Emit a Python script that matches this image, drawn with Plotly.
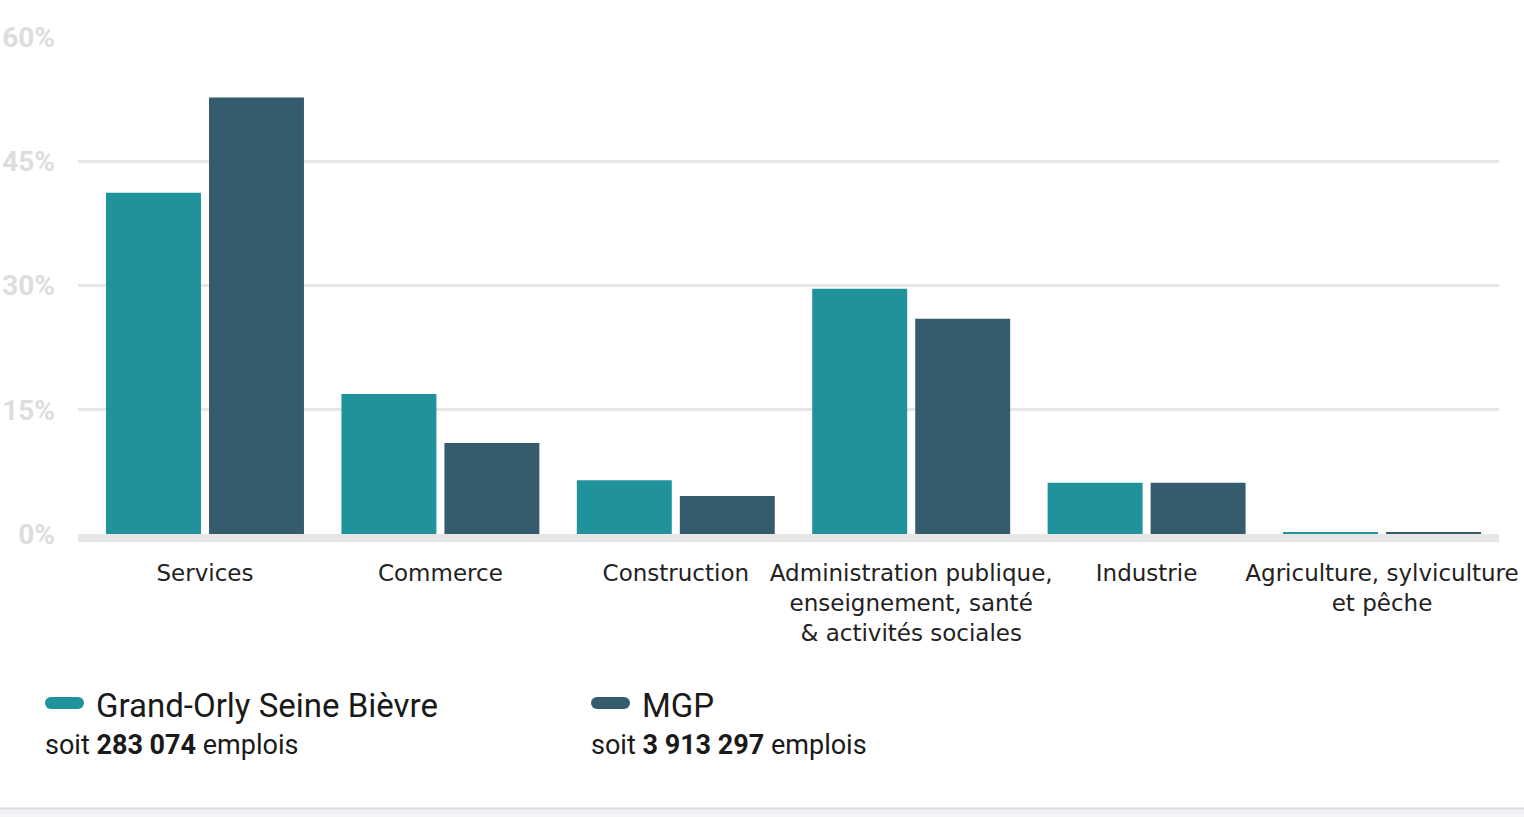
import plotly.graph_objects as go

categories = ["Services", "Commerce", "Construction",
              "Administration publique,<br>enseignement, santé<br>& activités sociales",
              "Industrie", "Agriculture, sylviculture<br>et pêche"]
gosb_values = [41.2, 16.9, 6.5, 29.6, 6.2, 0.2]
mgp_values = [52.7, 11.0, 4.6, 26.0, 6.2, 0.2]
series_names = ["Grand-Orly Seine Bièvre", "MGP"]
series_totals = ["283 074", "3 913 297"]
y_ticks = [0, 15, 30, 45, 60]
y_tick_labels = ["<b>0%</b>", "<b>15%</b>", "<b>30%</b>", "<b>45%</b>", "<b>60%</b>"]

TEAL = "#20929B"
DARK = "#355C6C"

W, H = 1524, 817
ML, MR, MT = 78, 25, 37
PLOT_BOTTOM = 534
MB = H - PLOT_BOTTOM
PH = PLOT_BOTTOM - MT
PW = W - ML - MR


def px_x(x):
    return (x - ML) / PW


def px_y(y):
    return (PLOT_BOTTOM - y) / PH


x_idx = list(range(len(categories)))

fig = go.Figure()
fig.add_trace(go.Bar(x=x_idx, y=gosb_values, name=series_names[0],
                     marker=dict(color=TEAL, line=dict(width=0))))
fig.add_trace(go.Bar(x=x_idx, y=mgp_values, name=series_names[1],
                     marker=dict(color=DARK, line=dict(width=0))))

fig.update_layout(
    width=W, height=H,
    margin=dict(l=ML, r=MR, t=MT, b=MB, pad=0, autoexpand=False),
    paper_bgcolor="white", plot_bgcolor="white",
    barmode="group", bargap=0.125, bargroupgap=0.078,
    showlegend=False,
    font=dict(family="DejaVu Sans, sans-serif", color="#222222"),
)
fig.update_xaxes(
    tickmode="array", tickvals=x_idx, ticktext=categories,
    range=[-0.5395, 5.497], showgrid=False, zeroline=False, showline=False,
    ticks="", ticklabelstandoff=23, automargin=False,
    tickfont=dict(family="DejaVu Sans, sans-serif", size=23, color="#222222"),
)
fig.update_yaxes(
    range=[0, 60], tickmode="array", tickvals=y_ticks, ticktext=y_tick_labels,
    showgrid=True, gridcolor="#E6E6E6", gridwidth=2.5, automargin=False,
    zeroline=False, showline=False, ticks="", ticklabelstandoff=22,
    tickfont=dict(family="Roboto, sans-serif", size=28, color="#DDDDDD"),
)

shapes = []
# baseline band
shapes.append(dict(type="rect", xref="paper", yref="paper", x0=0, x1=1,
                   y0=px_y(542), y1=px_y(534), fillcolor="#E6E6E6",
                   line=dict(width=0), layer="below"))
# bottom strip
shapes.append(dict(type="rect", xref="paper", yref="paper", x0=px_x(0), x1=px_x(W),
                   y0=px_y(H + 2), y1=px_y(809), fillcolor="#F3F3F5",
                   line=dict(width=0)))
shapes.append(dict(type="line", xref="paper", yref="paper", x0=px_x(0), x1=px_x(W),
                   y0=px_y(808.5), y1=px_y(808.5), line=dict(color="#DCDCE4", width=2)))


def pill(x0, x1, y0, y1, color):
    r = (y1 - y0) / 2
    return [
        dict(type="rect", xref="paper", yref="paper", x0=px_x(x0 + r), x1=px_x(x1 - r),
             y0=px_y(y1), y1=px_y(y0), fillcolor=color, line=dict(width=0)),
        dict(type="circle", xref="paper", yref="paper", x0=px_x(x0), x1=px_x(x0 + 2 * r),
             y0=px_y(y1), y1=px_y(y0), fillcolor=color, line=dict(width=0)),
        dict(type="circle", xref="paper", yref="paper", x0=px_x(x1 - 2 * r), x1=px_x(x1),
             y0=px_y(y1), y1=px_y(y0), fillcolor=color, line=dict(width=0)),
    ]


legend_x = [45, 591]
colors = [TEAL, DARK]
annotations = []
for lx, name, total, col in zip(legend_x, series_names, series_totals, colors):
    shapes += pill(lx, lx + 39, 697, 709, col)
    annotations.append(dict(xref="paper", yref="paper", x=px_x(lx + 49), y=px_y(705),
                            xanchor="left", yanchor="middle", showarrow=False,
                            text=name,
                            font=dict(family="Roboto, sans-serif", size=33, color="#1A1A1A")))
    annotations.append(dict(xref="paper", yref="paper", x=px_x(lx - 2), y=px_y(745),
                            xanchor="left", yanchor="middle", showarrow=False,
                            text=f"soit <b>{total}</b> emplois",
                            font=dict(family="Roboto, sans-serif", size=27, color="#1A1A1A")))

fig.update_layout(shapes=shapes, annotations=annotations)

fig.write_html(
    "out.html", config={"displayModeBar": False},
    post_script=("document.body.style.margin='0';document.body.style.overflow='hidden';"
                 "var d=document.getElementById('{plot_id}');d.style.position='absolute';"
                 "d.style.left='0px';d.style.top='0px';d.style.margin='0';"),
)
